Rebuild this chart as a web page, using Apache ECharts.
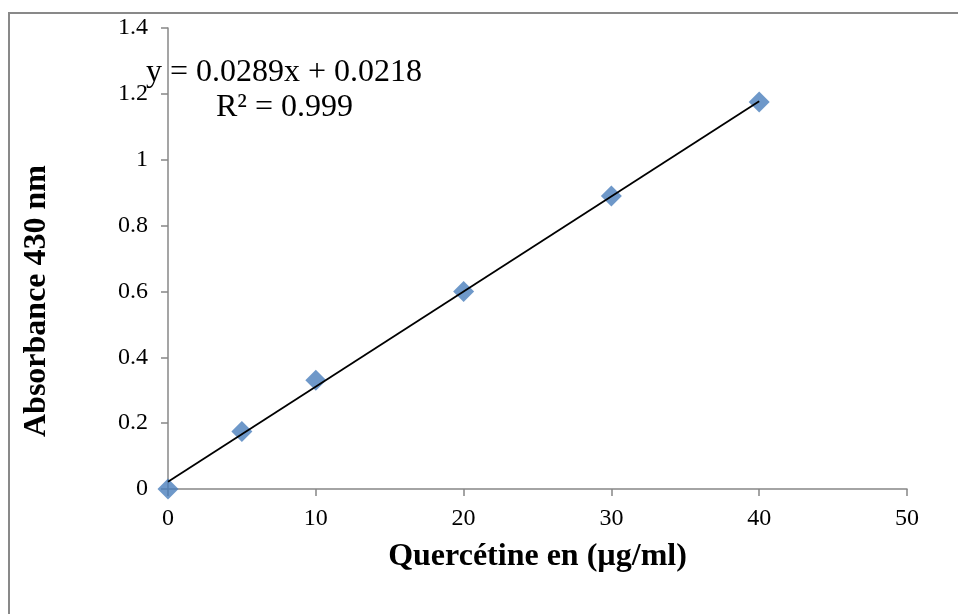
<!DOCTYPE html>
<html><head><meta charset="utf-8">
<script src="https://cdn.jsdelivr.net/npm/echarts@6/dist/echarts.min.js"></script>
<style>html,body{margin:0;padding:0;background:#fff}#c{width:958px;height:614px}</style>
</head><body><div id="c"></div>
<script>
const concentrations = [0, 5, 10, 20, 30, 40];
const absorbance = [0, 0.175, 0.33, 0.60, 0.89, 1.175];
const slope = 0.0289;
const intercept = 0.0218;
const rSquared = 0.999;
const xTicks = [0, 10, 20, 30, 40, 50];
const yTicks = [0, 0.2, 0.4, 0.6, 0.8, 1, 1.2, 1.4];
const trendX = [0, 40];

const font = '"Liberation Serif", "Times New Roman", serif';
const axisGrey = '#878787';
const chart = echarts.init(document.getElementById('c'));
chart.setOption({
  animation: false,
  grid: {left: 168, right: 51, top: 28, bottom: 125},
  xAxis: {
    type: 'value', min: 0, max: 50, interval: 10,
    name: 'Quercétine en (µg/ml)', nameLocation: 'middle', nameGap: 52,
    nameTextStyle: {fontFamily: font, fontSize: 32, fontWeight: 'bold', color: '#000'},
    axisLine: {show: true, lineStyle: {color: axisGrey, width: 1.5}},
    axisTick: {show: true, length: 7, lineStyle: {color: axisGrey, width: 1.5}},
    axisLabel: {fontFamily: font, fontSize: 24, color: '#000', margin: 18},
    splitLine: {show: false}
  },
  yAxis: {
    type: 'value', min: 0, max: 1.4, interval: 0.2,
    axisLine: {show: true, lineStyle: {color: axisGrey, width: 1.5}},
    axisTick: {show: true, length: 7, lineStyle: {color: axisGrey, width: 1.5}},
    axisLabel: {fontFamily: font, fontSize: 24, color: '#000', margin: 20,
      formatter: v => String(Math.round(v * 10) / 10)},
    splitLine: {show: false}
  },
  graphic: [
    {type: 'rect', x: 9, y: 13, shape: {width: 960, height: 620}, silent: true,
      style: {fill: 'none', stroke: '#898989', lineWidth: 2}, z: -10},
    {type: 'text', x: 37, y: 301, rotation: Math.PI / 2, silent: true,
      style: {text: 'Absorbance 430 nm', fontFamily: font, fontSize: 32, fontWeight: 'bold', fill: '#000',
        align: 'center', verticalAlign: 'middle'}},
    {type: 'text', silent: true, x: 146, y: 73, z: 20,
      style: {text: 'y = ' + slope + 'x + ' + intercept, fontFamily: font, fontSize: 32, fill: '#000', verticalAlign: 'middle'}},
    {type: 'text', silent: true, x: 216, y: 108, z: 20,
      style: {text: 'R² = ' + rSquared, fontFamily: font, fontSize: 32, fill: '#000', verticalAlign: 'middle'}}
  ],
  series: [
    {type: 'scatter', symbol: 'diamond', symbolSize: 21, z: 2,
      itemStyle: {color: '#4a7ebb'},
      data: concentrations.map((x, i) => [x, absorbance[i]])},
    {type: 'line', symbol: 'none', z: 3,
      lineStyle: {color: '#000', width: 1.8},
      data: trendX.map(x => [x, slope * x + intercept])}
  ]
});
</script></body></html>
